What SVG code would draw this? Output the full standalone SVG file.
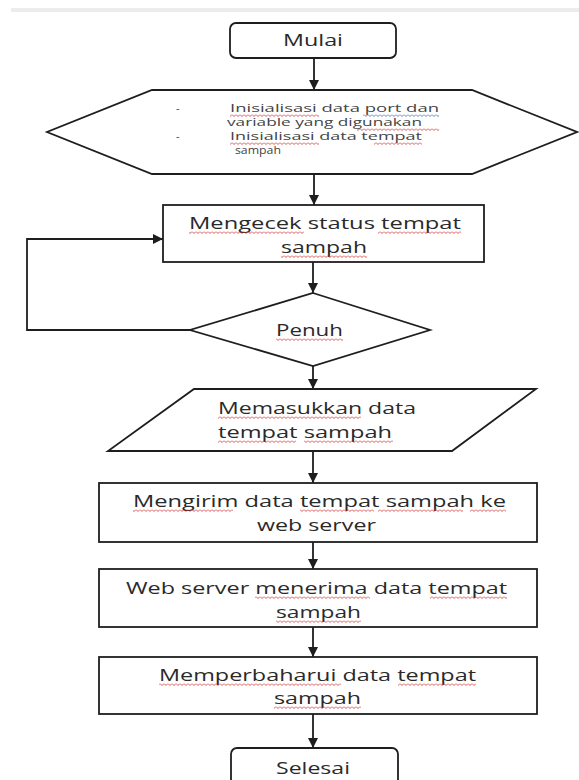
<svg xmlns="http://www.w3.org/2000/svg" width="579" height="780" viewBox="0 0 579 780">
<style>
.sh{fill:#fff;stroke:#1e1e1e;stroke-width:1.8}
.ln{fill:none;stroke:#1e1e1e;stroke-width:1.8}
.t{font-family:"Open Sans","Liberation Sans",sans-serif;font-size:17px;fill:#2a2a2a}
.s{font-family:"Open Sans","Liberation Sans",sans-serif;font-size:11px;fill:#444}
</style>
<defs>
<marker id="ah" markerWidth="10" markerHeight="10" refX="10" refY="5" orient="auto" markerUnits="userSpaceOnUse">
<path d="M0,0 L10,5 L0,10 Z" fill="#1e1e1e"/>
</marker>
<pattern id="sq" patternUnits="userSpaceOnUse" width="4" height="3">
<path d="M0,0.5 L2,2.5 L4,0.5" fill="none" stroke="#d42a2a" stroke-width="0.8"/>
</pattern>
<pattern id="sqb" patternUnits="userSpaceOnUse" width="4" height="3">
<path d="M0,0.5 L2,2.5 L4,0.5" fill="none" stroke="#3a62c8" stroke-width="0.8"/>
</pattern>
</defs>
<rect x="11" y="8" width="568" height="4" fill="#ececec"/>
<g id="connectors">
<path class="ln" d="M314,58 V90" marker-end="url(#ah)"/>
<path class="ln" d="M314,174 V205" marker-end="url(#ah)"/>
<path class="ln" d="M313,262 V293" marker-end="url(#ah)"/>
<path class="ln" d="M190,330 H27 V239 H163" marker-end="url(#ah)"/>
<path class="ln" d="M313,366 V389" marker-end="url(#ah)"/>
<path class="ln" d="M313,451 V483" marker-end="url(#ah)"/>
<path class="ln" d="M313,542 V569" marker-end="url(#ah)"/>
<path class="ln" d="M313,627 V657" marker-end="url(#ah)"/>
<path class="ln" d="M313,714 V748" marker-end="url(#ah)"/>
</g>
<g id="mulai">
<rect class="sh" x="230" y="23" width="166" height="35" rx="6"/>
<text class="t" x="283" y="46" textLength="60" lengthAdjust="spacingAndGlyphs">Mulai</text>
</g>
<g id="inisialisasi">
<polygon class="sh" points="152,90 472,90 577,132 472,174 152,174 47,132"/>
<text class="s" x="176" y="112">-</text>
<text class="s" x="230" y="112" textLength="209" lengthAdjust="spacingAndGlyphs">Inisialisasi data port dan</text>
<text class="s" x="227" y="126" textLength="195" lengthAdjust="spacingAndGlyphs">variable yang digunakan</text>
<text class="s" x="176" y="140">-</text>
<text class="s" x="230" y="140" textLength="192" lengthAdjust="spacingAndGlyphs">Inisialisasi data tempat</text>
<text class="s" x="235" y="154" textLength="46" lengthAdjust="spacingAndGlyphs">sampah</text>
<rect transform="translate(0,114)" x="230" y="0" width="89" height="3" fill="url(#sq)"/>
<rect transform="translate(0,114)" x="363" y="0" width="76" height="3" fill="url(#sqb)"/>
<rect transform="translate(0,128)" x="357" y="0" width="82" height="3" fill="url(#sq)"/>
<rect transform="translate(0,142)" x="230" y="0" width="89" height="3" fill="url(#sq)"/>
<rect transform="translate(0,142)" x="374" y="0" width="48" height="3" fill="url(#sq)"/>
</g>
<g id="mengecek">
<rect class="sh" x="163" y="205" width="321" height="57"/>
<text class="t" x="189" y="229" textLength="272" lengthAdjust="spacingAndGlyphs">Mengecek status tempat</text>
<text class="t" x="281" y="253" textLength="86" lengthAdjust="spacingAndGlyphs">sampah</text>
<rect transform="translate(0,231)" x="189" y="0" width="115" height="3" fill="url(#sq)"/>
<rect transform="translate(0,231)" x="378" y="0" width="83" height="3" fill="url(#sq)"/>
<rect transform="translate(0,255)" x="281" y="0" width="86" height="3" fill="url(#sq)"/>
</g>
<g id="penuh">
<polygon class="sh" points="313,293 430,330 313,366 190,330"/>
<text class="t" x="276" y="336" textLength="67" lengthAdjust="spacingAndGlyphs">Penuh</text>
<rect transform="translate(0,338)" x="276" y="0" width="67" height="3" fill="url(#sq)"/>
</g>
<g id="memasukkan">
<polygon class="sh" points="194,389 536,389 452,451 108,451"/>
<text class="t" x="218" y="414" textLength="198" lengthAdjust="spacingAndGlyphs">Memasukkan data</text>
<text class="t" x="218" y="438" textLength="174" lengthAdjust="spacingAndGlyphs">tempat sampah</text>
<rect transform="translate(0,416)" x="218" y="0" width="143" height="3" fill="url(#sq)"/>
<rect transform="translate(0,440)" x="218" y="0" width="78" height="3" fill="url(#sq)"/>
<rect transform="translate(0,440)" x="304" y="0" width="89" height="3" fill="url(#sq)"/>
</g>
<g id="mengirim">
<rect class="sh" x="99" y="483" width="438" height="59"/>
<text class="t" x="133" y="507" textLength="373" lengthAdjust="spacingAndGlyphs">Mengirim data tempat sampah ke</text>
<text class="t" x="257" y="531" textLength="119" lengthAdjust="spacingAndGlyphs">web server</text>
<rect transform="translate(0,509)" x="133" y="0" width="100" height="3" fill="url(#sq)"/>
<rect transform="translate(0,509)" x="300" y="0" width="74" height="3" fill="url(#sq)"/>
<rect transform="translate(0,509)" x="378" y="0" width="85" height="3" fill="url(#sq)"/>
<rect transform="translate(0,509)" x="470" y="0" width="36" height="3" fill="url(#sq)"/>
</g>
<g id="webserver">
<rect class="sh" x="99" y="569" width="438" height="58"/>
<text class="t" x="126" y="594" textLength="381" lengthAdjust="spacingAndGlyphs">Web server menerima data tempat</text>
<text class="t" x="276" y="618" textLength="85" lengthAdjust="spacingAndGlyphs">sampah</text>
<rect transform="translate(0,596)" x="255" y="0" width="115" height="3" fill="url(#sq)"/>
<rect transform="translate(0,596)" x="430" y="0" width="77" height="3" fill="url(#sq)"/>
<rect transform="translate(0,620)" x="276" y="0" width="85" height="3" fill="url(#sq)"/>
</g>
<g id="memperbaharui">
<rect class="sh" x="99" y="657" width="438" height="57"/>
<text class="t" x="159" y="681" textLength="317" lengthAdjust="spacingAndGlyphs">Memperbaharui data tempat</text>
<text class="t" x="274" y="704" textLength="87" lengthAdjust="spacingAndGlyphs">sampah</text>
<rect transform="translate(0,683)" x="159" y="0" width="182" height="3" fill="url(#sq)"/>
<rect transform="translate(0,683)" x="398" y="0" width="78" height="3" fill="url(#sq)"/>
<rect transform="translate(0,706)" x="274" y="0" width="87" height="3" fill="url(#sq)"/>
</g>
<g id="selesai">
<rect class="sh" x="231" y="748" width="167" height="45" rx="6"/>
<text class="t" x="276" y="774" textLength="74" lengthAdjust="spacingAndGlyphs">Selesai</text>
</g>
</svg>
